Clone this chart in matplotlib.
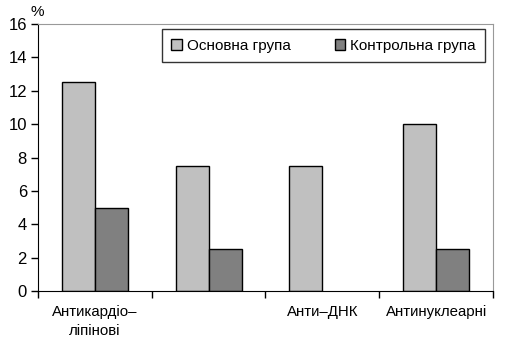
import matplotlib.pyplot as plt
import numpy as np

# дані
categories = ['Антикардіо–\nліпінові', '', 'Анти–ДНК', 'Антинуклеарні']
osnovna = [12.5, 7.5, 7.5, 10]
kontrolna = [5, 2.5, 0, 2.5]
series_names = ['Основна група', 'Контрольна група']
yticks = [0, 2, 4, 6, 8, 10, 12, 14, 16]

plt.rcParams['font.family'] = ['Liberation Sans', 'DejaVu Sans']

fig = plt.figure(figsize=(5.1, 3.45), dpi=100)
ax = fig.add_axes([38 / 510, 1 - 291 / 345, 455 / 510, 267 / 345])

x = np.arange(len(categories))
w = 0.29
ax.bar(x - w / 2, osnovna, w, color='#c0c0c0', edgecolor='black', linewidth=1, label=series_names[0])
# нульові стовпчики не малюємо
k = np.array(kontrolna, dtype=float)
ax.bar(x + w / 2, np.where(k > 0, k, np.nan), w, color='#808080', edgecolor='black',
       linewidth=1, label=series_names[1])

ax.set_xlim(-0.5, len(categories) - 0.5)
ax.set_ylim(0, 16)
ax.set_yticks(yticks)
ax.set_yticklabels([str(v) for v in yticks], fontsize=12)

# поділки між групами
ax.set_xticks(np.arange(len(categories) + 1) - 0.5)
ax.set_xticklabels([])
ax.tick_params(axis='x', length=5, width=1, direction='out')
ax.tick_params(axis='y', length=5, width=1, direction='out', pad=3)
for i, lab in enumerate(categories):
    ax.text(i, -0.85, lab, ha='center', va='top', fontsize=10.8, linespacing=1.4)

for s in ['top', 'right']:
    ax.spines[s].set_color('#999999')
for s in ['left', 'bottom']:
    ax.spines[s].set_color('black')

ax.text(-0.016, 1.02, '%', transform=ax.transAxes, fontsize=11, ha='left', va='bottom')

leg = ax.legend(loc='upper right', bbox_to_anchor=(0.982, 0.98), ncol=2, fontsize=11,
                frameon=True, fancybox=False, edgecolor='black', handlelength=0.7,
                handleheight=0.7, columnspacing=2.9, borderpad=0.6, handletextpad=0.3,
                borderaxespad=0)
leg.get_frame().set_linewidth(1)

fig.savefig('out.png', dpi=100)
